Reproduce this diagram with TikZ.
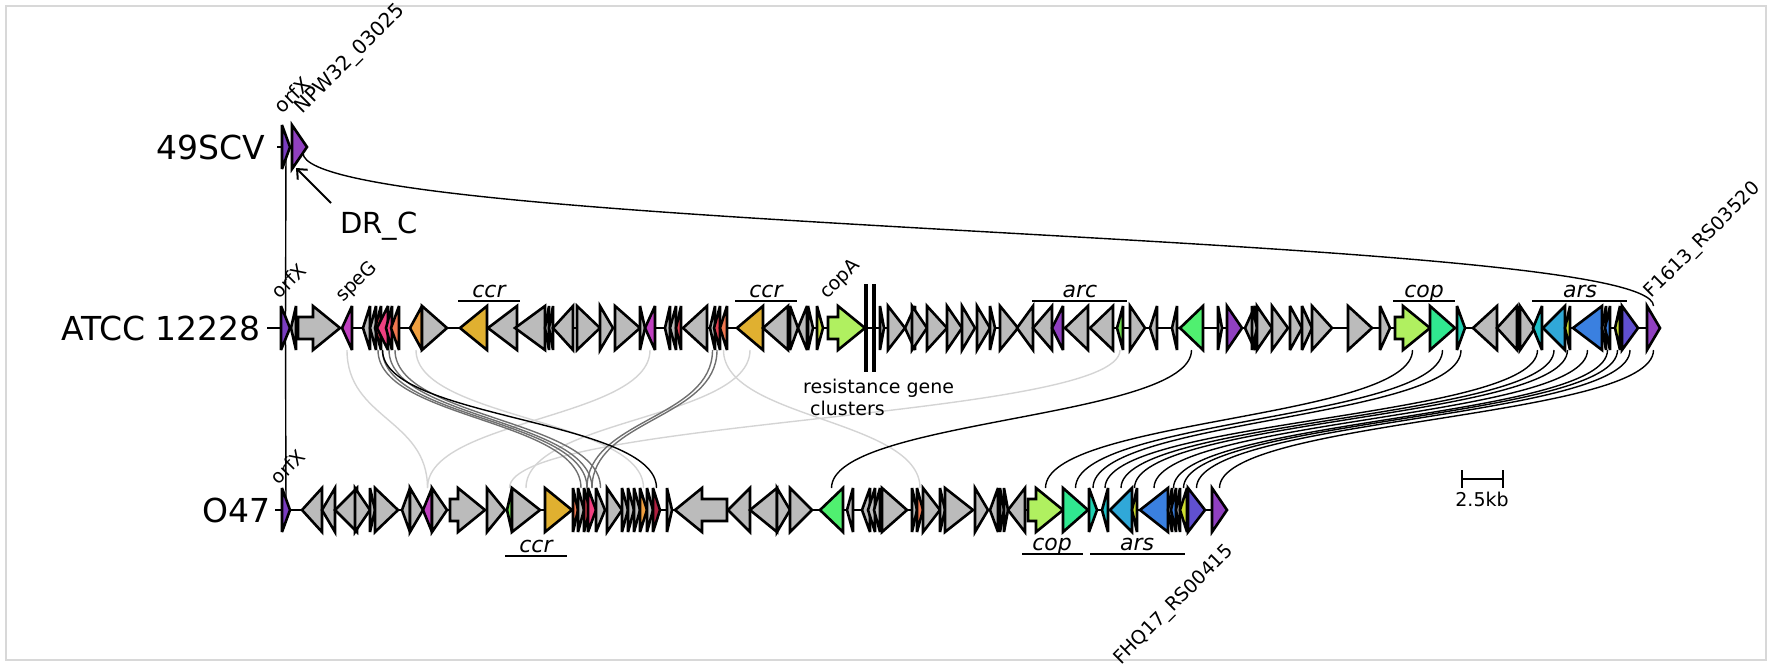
\documentclass[tikz,border=0pt]{standalone}
\usepackage{fontspec}
\setmainfont{DejaVu Sans}
\usetikzlibrary{calc,arrows.meta}
\pgfdeclarelayer{bg}
\pgfsetlayers{bg,main}
\definecolor{gry}{HTML}{BBBBBB}
\definecolor{orfx}{HTML}{7A3DC0}
\definecolor{purp}{HTML}{9040C0}
\definecolor{magn}{HTML}{C040C0}
\definecolor{pink}{HTML}{F04080}
\definecolor{redg}{HTML}{E04050}
\definecolor{dred}{HTML}{B02040}
\definecolor{orng}{HTML}{F07850}
\definecolor{orng2}{HTML}{F0A040}
\definecolor{gold}{HTML}{E0B030}
\definecolor{ylg}{HTML}{C8E040}
\definecolor{copa}{HTML}{B0F060}
\definecolor{grns}{HTML}{70E050}
\definecolor{bgrn}{HTML}{50F070}
\definecolor{tgrn}{HTML}{30E890}
\definecolor{teal}{HTML}{20D0B0}
\definecolor{teal2}{HTML}{20C0C8}
\definecolor{lblu}{HTML}{30A8D8}
\definecolor{ylw}{HTML}{D0E030}
\definecolor{blu}{HTML}{3A80E0}
\definecolor{indg}{HTML}{6050D0}
\definecolor{lightlink}{HTML}{D4D4D4}
\definecolor{midlink}{HTML}{707070}
\definecolor{frame}{HTML}{D8D8D8}
\tikzset{
 gene/.style={draw=black,line width=2.6pt,line join=miter,miter limit=4},
 backbone/.style={line width=2.4pt},
 lnk/.style={line width=1.4pt,black},
 lnkl/.style={line width=1.4pt,lightlink},
 lnkm/.style={line width=1.4pt,midlink},
 rowlab/.style={font=\fontsize{33}{40}\selectfont,anchor=east,inner sep=0pt},
 glab/.style={font=\fontsize{19}{22}\selectfont,rotate=45,anchor=south west,inner sep=0pt},
 clab/.style={font=\fontsize{22}{26}\selectfont\itshape,anchor=base,inner sep=0pt},
 cline/.style={line width=2.6pt},
 txt/.style={font=\fontsize{19}{22}\selectfont,inner sep=0pt},
}
\newcommand\gene[4]{%
 \pgfmathsetmacro\gL{abs(#3-#2)}%
 \pgfmathsetmacro\gS{(#3-#2)/\gL}%
 \ifdim\gL pt>32pt
  \pgfmathsetmacro\gH{#3-27*\gS}%
  \draw[gene,fill=#4] (#2,\ry-11) -- (\gH,\ry-11) -- (\gH,\ry-22) -- (#3,\ry) -- (\gH,\ry+22) -- (\gH,\ry+11) -- (#2,\ry+11) -- cycle;
 \else
  \draw[gene,fill=#4] (#2,\ry-22) -- (#3,\ry) -- (#2,\ry+22) -- cycle;
 \fi
 \coordinate (#1) at ({(#2+#3)/2},\ry);}
\newcommand\lk[3][lnk]{\begin{pgfonlayer}{bg}\draw[#1] ($(#2)+(0,22)$) .. controls ($(#2)+(0,91)$) and ($(#3)+(0,-91)$) .. ($(#3)+(0,-22)$);\end{pgfonlayer}}
\begin{document}
\begin{tikzpicture}[x=1pt,y=-1pt]
\useasboundingbox (0,0) rectangle (1772,667);
\draw[frame,line width=1.5pt] (6,6) rectangle (1766,660);
% ---------- 49SCV
\def\ry{147}
\node[rowlab] (l49) at (265,147) {49SCV};
\coordinate (b49s) at (277,147);
\coordinate (b49e) at (307,147);
\begin{pgfonlayer}{bg}\draw[backbone] (b49s) -- (b49e);\end{pgfonlayer}
\gene{c1}{282}{290}{orfx}
\gene{c2}{292}{307}{purp}
\node[glab,font=\fontsize{20}{24}\selectfont] (c1l) at (283,115) {orfX};
\node[glab,font=\fontsize{20}{24}\selectfont] (c2l) at (306,118) {NPW32\_03025};
\node[font=\fontsize{29}{34}\selectfont,inner sep=0pt] (drc) at (379,226) {DR\_C};
\coordinate (drcs) at (331,203);
\coordinate (drct) at (296,168);
\draw[line width=2pt,-{Straight Barb[length=8pt,width=14pt]}] (drcs) -- (drct);
% ---------- ATCC 12228
\def\ry{328}
\node[rowlab] (lat) at (261,328) {ATCC 12228};
\coordinate (bas) at (267,328);
\coordinate (bae) at (1658,328);
\begin{pgfonlayer}{bg}\draw[backbone] (bas) -- (bae);\end{pgfonlayer}
\gene{a1}{281}{290}{orfx}
\gene{a1b}{296}{291}{gry}
\gene{a2}{298}{340}{gry}
\gene{a3}{352}{342}{magn}
\gene{a4}{370}{363}{gry}
\gene{a5}{376}{370}{gry}
\gene{a6}{381}{375}{redg}
\gene{a7}{388}{377}{pink}
\gene{a8}{392}{386}{pink}
\gene{a9}{399}{391}{orng}
\gene{a10}{422}{410}{orng2}
\gene{a11}{422}{447}{gry}
\gene{a12}{487}{460}{gold}
\gene{a13}{517}{488}{gry}
\gene{a14}{545}{515}{gry}
\gene{a15}{549}{545}{gry}
\gene{a16}{553}{549}{gry}
\gene{a17}{573}{553}{gry}
\gene{a18}{577}{600}{gry}
\gene{a19}{600}{613}{gry}
\gene{a20}{615}{640}{gry}
\gene{a21}{640}{645}{gry}
\gene{a22}{655}{645}{magn}
\gene{a23}{670}{665}{gry}
\gene{a24}{676}{670}{gry}
\gene{a25}{681}{676}{redg}
\gene{a26}{707}{683}{gry}
\gene{a27}{715}{710}{gry}
\gene{a28}{720}{714}{redg}
\gene{a29}{727}{720}{orng}
\gene{a30}{763}{737}{gold}
\gene{a31}{788}{763}{gry}
\gene{a32}{790}{798}{gry}
\gene{a33}{807}{798}{gry}
\gene{a34}{808}{813}{gry}
\gene{a35}{817}{823}{ylg}
\gene{a36}{828}{865}{copa}
\coordinate (r1t) at (866,284); \coordinate (r1b) at (866,372);
\coordinate (r2t) at (874,284); \coordinate (r2b) at (874,372);
\draw[line width=4pt] (r1t) -- (r1b);
\draw[line width=4pt] (r2t) -- (r2b);
\gene{a37}{880}{884}{gry}
\gene{a38}{888}{905}{gry}
\gene{a39}{915}{905}{gry}
\gene{a40}{912}{927}{gry}
\gene{a41}{927}{947}{gry}
\gene{a42}{947}{962}{gry}
\gene{a43}{962}{975}{gry}
\gene{a44}{977}{990}{gry}
\gene{a45}{990}{995}{gry}
\gene{a46}{1000}{1018}{gry}
\gene{a47}{1033}{1017}{gry}
\gene{a48}{1052}{1033}{gry}
\gene{a49}{1063}{1052}{purp}
\gene{a50}{1088}{1065}{gry}
\gene{a51}{1113}{1090}{gry}
\gene{a52}{1123}{1117}{grns}
\gene{a53}{1130}{1145}{gry}
\gene{a54}{1157}{1150}{gry}
\gene{a55}{1177}{1172}{gry}
\gene{a56}{1203}{1180}{bgrn}
\gene{a57}{1218}{1222}{gry}
\gene{a58}{1227}{1242}{purp}
\gene{a59}{1255}{1245}{gry}
\gene{a60}{1252}{1257}{gry}
\gene{a61}{1257}{1272}{gry}
\gene{a62}{1272}{1288}{gry}
\gene{a63}{1290}{1302}{gry}
\gene{a64}{1302}{1312}{gry}
\gene{a65}{1312}{1332}{gry}
\gene{a66}{1348}{1372}{gry}
\gene{a67}{1380}{1390}{gry}
\gene{a68}{1395}{1430}{copa}
\gene{a69}{1430}{1455}{tgrn}
\gene{a70}{1457}{1465}{teal}
\gene{a71}{1497}{1473}{gry}
\gene{a72}{1517}{1497}{gry}
\gene{a73}{1518}{1522}{gry}
\gene{a74}{1520}{1535}{gry}
\gene{a75}{1542}{1533}{teal2}
\gene{a76}{1565}{1543}{lblu}
\gene{a77}{1570}{1565}{ylw}
\gene{a78}{1602}{1573}{blu}
\gene{a79}{1606}{1602}{gry}
\gene{a80}{1610}{1605}{blu}
\gene{a81}{1620}{1615}{ylw}
\gene{a82}{1622}{1638}{indg}
\gene{a83}{1647}{1660}{purp}
\node[glab] (a1l) at (280,300) {orfX};
\node[glab] (a3l) at (346,306) {speG};
\node[glab] (a36l) at (830,303) {copA};
\node[glab] (a83l) at (1655,302) {F1613\_RS03520};
\node[txt,anchor=base west] (res1) at (803,393) {resistance gene};
\node[txt,anchor=base west] (res2) at (810,415) {clusters};
% cluster labels ATCC
\coordinate (k1a) at (458,301); \coordinate (k1b) at (520,301);
\draw[cline] (k1a) -- (k1b); \node[clab] (k1) at (489,297) {ccr};
\coordinate (k2a) at (735,301); \coordinate (k2b) at (797,301);
\draw[cline] (k2a) -- (k2b); \node[clab] (k2) at (766,297) {ccr};
\coordinate (k3a) at (1032,301); \coordinate (k3b) at (1127,301);
\draw[cline] (k3a) -- (k3b); \node[clab] (k3) at (1080,297) {arc};
\coordinate (k4a) at (1393,301); \coordinate (k4b) at (1455,301);
\draw[cline] (k4a) -- (k4b); \node[clab] (k4) at (1424,297) {cop};
\coordinate (k5a) at (1532,301); \coordinate (k5b) at (1627,301);
\draw[cline] (k5a) -- (k5b); \node[clab] (k5) at (1580,297) {ars};
% ---------- O47
\def\ry{510}
\node[rowlab] (lo) at (271,510) {O47};
\coordinate (bos) at (275,510);
\coordinate (boe) at (1226,510);
\begin{pgfonlayer}{bg}\draw[backbone] (bos) -- (boe);\end{pgfonlayer}
\gene{b1}{282}{290}{orfx}
\gene{b2}{322}{302}{gry}
\gene{b3}{335}{322}{gry}
\gene{b4}{357}{335}{gry}
\gene{b5}{355}{370}{gry}
\gene{b6}{370}{375}{gry}
\gene{b7}{375}{398}{gry}
\gene{b8}{410}{402}{gry}
\gene{b9}{410}{423}{gry}
\gene{b10}{432}{423}{magn}
\gene{b11}{432}{447}{gry}
\gene{b12}{450}{485}{gry}
\gene{b13}{487}{505}{gry}
\gene{b14}{512}{507}{grns}
\gene{b15}{512}{540}{gry}
\gene{b16}{545}{572}{gold}
\gene{b17}{573}{578}{orng}
\gene{b18}{578}{584}{gry}
\gene{b19}{584}{590}{redg}
\gene{b20}{588}{596}{pink}
\gene{b21}{596}{605}{gry}
\gene{b22}{607}{622}{gry}
\gene{b23}{622}{628}{gry}
\gene{b24}{628}{634}{gry}
\gene{b25}{634}{640}{gry}
\gene{b26}{640}{647}{orng2}
\gene{b27}{647}{653}{gry}
\gene{b28}{653}{660}{dred}
\gene{b29}{667}{672}{gry}
\gene{b30}{727}{675}{gry}
\gene{b31}{750}{728}{gry}
\gene{b32}{777}{750}{gry}
\gene{b33}{777}{790}{gry}
\gene{b34}{790}{812}{gry}
\gene{b35}{843}{820}{bgrn}
\gene{b36}{853}{847}{gry}
\gene{b37}{870}{862}{gry}
\gene{b38}{875}{868}{gry}
\gene{b39}{880}{874}{gry}
\gene{b40}{882}{907}{gry}
\gene{b41}{912}{917}{gry}
\gene{b42}{917}{923}{orng}
\gene{b43}{923}{940}{gry}
\gene{b44}{940}{945}{gry}
\gene{b45}{945}{973}{gry}
\gene{b46}{975}{988}{gry}
\gene{b47}{998}{990}{gry}
\gene{b48}{1000}{1004}{gry}
\gene{b48b}{1004}{1008}{gry}
\gene{b49}{1025}{1008}{gry}
\gene{b50}{1028}{1063}{copa}
\gene{b51}{1063}{1088}{tgrn}
\gene{b52}{1089}{1097}{teal}
\gene{b53}{1108}{1102}{teal2}
\gene{b54}{1132}{1110}{lblu}
\gene{b55}{1137}{1132}{ylw}
\gene{b56}{1168}{1140}{blu}
\gene{b57}{1172}{1168}{gry}
\gene{b58}{1176}{1171}{blu}
\gene{b59}{1180}{1176}{gry}
\gene{b60}{1187}{1180}{ylw}
\gene{b61}{1188}{1205}{indg}
\gene{b62}{1212}{1227}{purp}
\node[glab] (b1l) at (279,486) {orfX};
\node[font=\fontsize{19}{22}\selectfont,rotate=45,anchor=north east,inner sep=0pt] (b62l) at (1224,542) {FHQ17\_RS00415};
\coordinate (m1a) at (505,556); \coordinate (m1b) at (567,556);
\draw[cline] (m1a) -- (m1b); \node[clab] (m1) at (536,552) {ccr};
\coordinate (m2a) at (1022,554); \coordinate (m2b) at (1083,554);
\draw[cline] (m2a) -- (m2b); \node[clab] (m2) at (1052,550) {cop};
\coordinate (m3a) at (1090,554); \coordinate (m3b) at (1185,554);
\draw[cline] (m3a) -- (m3b); \node[clab] (m3) at (1137,550) {ars};
% scale bar
\coordinate (sb1) at (1462,479); \coordinate (sb2) at (1503,479);
\draw[line width=2.2pt] (sb1) -- (sb2);
\draw[line width=2.2pt] ($(sb1)+(0,-9)$) -- ($(sb1)+(0,9)$);
\draw[line width=2.2pt] ($(sb2)+(0,-9)$) -- ($(sb2)+(0,9)$);
\node[txt,anchor=north] (sbl) at (1482,492) {2.5kb};
% ---------- links
\begin{pgfonlayer}{bg}
\draw[lnk] (c1) -- (a1);
\draw[lnk] (a1) -- (b1);
\coordinate (s49) at (303,153);
\draw[lnk] (s49) .. controls (303,232) and ($(a83)+(0,-96)$) .. ($(a83)+(0,-22)$);
\end{pgfonlayer}
\lk[lnkl]{a3}{b10}
\lk[lnkl]{a22}{b10}
\lk[lnkl]{a10}{b26}
\lk[lnkl]{a30}{b15}
\lk[lnkl]{a52}{b14}
\lk[lnkl]{a29}{b42}
\lk[lnkm]{a6}{b18}
\lk[lnkm]{a7}{b19}
\lk[lnkm]{a8}{b20}
\lk[lnkm]{a9}{b21}
\lk[lnkm]{a27}{b19}
\lk[lnkm]{a28}{b20}
\lk{a7}{b28}
\lk{a56}{b35}
\lk{a68}{b50}
\lk{a69}{b51}
\lk{a70}{b52}
\lk{a75}{b53}
\lk{a76}{b54}
\lk{a77}{b55}
\lk{a78}{b56}
\lk{a80}{b58}
\lk{a81}{b60}
\lk{a82}{b61}
\lk{a83}{b62}
\end{tikzpicture}
\end{document}
